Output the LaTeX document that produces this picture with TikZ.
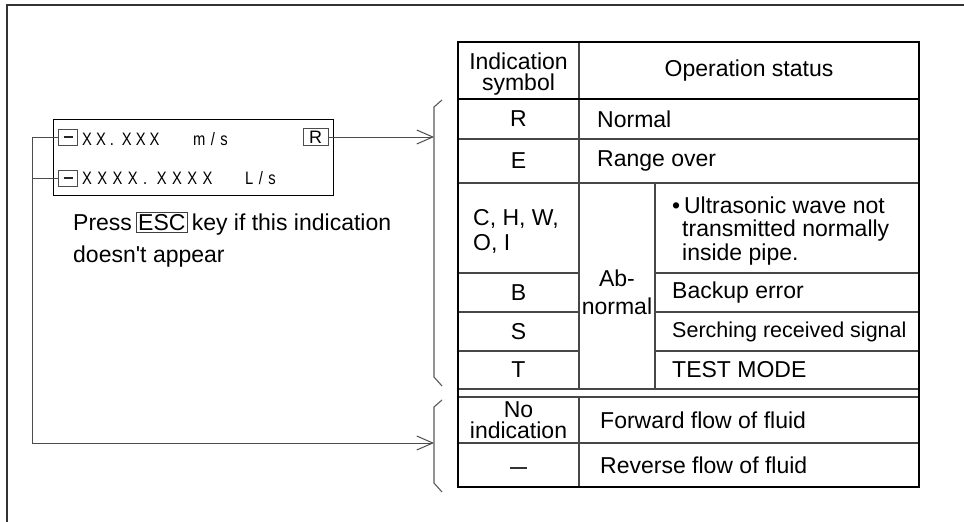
\documentclass[tikz,border=0pt]{standalone}
\usepackage{fontspec}
\setmainfont{Liberation Sans}
\newfontfamily\plainf{Liberation Sans}
\newfontfamily\dispA{Liberation Sans}[FakeStretch=0.82,LetterSpace=22]
\newfontfamily\dispB{Liberation Sans}[FakeStretch=0.82,LetterSpace=30]
\usetikzlibrary{arrows.meta}
\tikzset{
  tf/.style={font=\fontsize{23}{26}\selectfont, inner sep=0pt},
  dfa/.style={font=\dispA\fontsize{18}{20}\selectfont, inner sep=0pt},
  dfb/.style={font=\dispB\fontsize{18}{20}\selectfont, inner sep=0pt},
  inner/.style={draw=black!72, line width=1.1pt},
  outer/.style={draw=black, line width=1.6pt},
  conn/.style={draw=black!70, line width=1pt},
  tip/.style={-{Straight Barb[length=16pt,width=14pt,line width=1pt]}},
  brace/.style={draw=black!65, line width=1.1pt},
  smallbox/.style={draw=black!70, line width=0.9pt, inner sep=0pt, minimum width=19pt, minimum height=16pt},
}
\begin{document}
\begin{tikzpicture}[x=1pt,y=-1pt]
\useasboundingbox (0,0) rectangle (964,522);
% outer frame
\draw[draw=black!80, line width=1.8pt] (7,522) -- (7,5) -- (964,5);

% display box
\node[draw=black, line width=1.4pt, minimum width=280pt, minimum height=76pt, anchor=north west, inner sep=0pt] (disp) at (53,119) {};
\node[smallbox] (m1) at (68,137) {\color{black!85}\rule{9pt}{1.1pt}};
\node[smallbox] (m2) at (68,178) {\color{black!85}\rule{9pt}{1.1pt}};
\node[dfa, anchor=base west] (l1) at (82,145) {XX. XXX};
\node[dfb, anchor=base west] (u1) at (193,145) {m/s};
\node[dfb, anchor=base west] (l2) at (82,184) {XXXX. XXXX};
\node[dfb, anchor=base west] (u2) at (245,184) {L/s};
\node[draw=black!70, line width=0.9pt, inner sep=0pt, minimum width=25pt, minimum height=17pt, font=\fontsize{18}{20}\selectfont] (rbox) at (315.5,137) {R};

\node[tf, anchor=base west, align=left, font=\plainf\fontsize{23}{32}\selectfont] (press) at (73,262)
  {Press\,{\color{black!75}\setlength{\fboxsep}{1.5pt}\setlength{\fboxrule}{0.9pt}\fbox{\color{black}ESC}}\,key if this indication\\doesn't appear};

% braces
\draw[brace] (442,100) -- (434,107) -- (434,377) -- (442,386);
\draw[brace] (442,400) -- (434,407) -- (434,483) -- (442,492);
\coordinate (b1) at (434,137);
\coordinate (b2) at (434,443);
\coordinate (c1) at (32,443);

% connectors
\draw[conn, tip] (rbox.east) -- (b1);
\draw[conn] (m2.west) -- (m2.west -| c1);
\draw[conn, tip] (m1.west) -| (c1) -- (b2);

% table lines
\draw[inner] (579,42) -- (579,389);
\draw[inner] (579,397) -- (579,487);
\draw[inner] (655,183) -- (655,389);
\draw[inner] (458,139) -- (919,139);
\draw[inner] (458,183) -- (919,183);
\foreach \yy in {273,312,351} {
  \draw[inner] (458,\yy) -- (579,\yy);
  \draw[inner] (655,\yy) -- (919,\yy);
}
\draw[inner] (458,389) -- (919,389);
\draw[inner] (458,397) -- (919,397);
\draw[inner] (458,443) -- (919,443);
\draw[draw=black, line width=1.3pt] (458,99) -- (919,99);
\draw[outer] (458,42) rectangle (919,487);

% table text
\node[tf, anchor=base, align=center, font=\fontsize{23}{21}\selectfont] (h1) at (518.5,90) {Indication\\symbol};
\node[tf] (h2) at (749,71) {Operation status};
\node[tf] (sR) at (518.5,119) {R};
\node[tf, anchor=west] (tR) at (597,119) {Normal};
\node[tf] (sE) at (518.5,161) {E};
\node[tf, anchor=west] (tE) at (597,161) {Range over};
\node[tf, anchor=base west, align=left, font=\fontsize{23}{25}\selectfont] (sC) at (473,250) {C, H, W,\\O, I};
\node[tf, anchor=base, align=center, font=\fontsize{23}{28}\selectfont] (ab) at (617,314) {Ab-\\normal};
\node[tf, anchor=base west, align=left, font=\fontsize{23}{23.5}\selectfont] (tC) at (672,260)
  {•\,Ultrasonic wave not\\\hspace*{10pt}transmitted normally\\\hspace*{10pt}inside pipe.};
\node[tf] (sB) at (518.5,292.5) {B};
\node[tf, anchor=west] (tB) at (672,292.5) {Backup error};
\node[tf] (sS) at (518.5,331.5) {S};
\node[tf, anchor=west, font=\fontsize{21.5}{24}\selectfont] (tS) at (672,331.5) {Serching received signal};
\node[tf] (sT) at (518.5,370) {T};
\node[tf, anchor=west] (tT) at (672,370) {TEST MODE};
\node[tf, anchor=base, align=center, font=\fontsize{23}{21}\selectfont] (sN) at (518.5,438) {No\\indication};
\node[tf, anchor=west] (tN) at (600,420) {Forward flow of fluid};
\node[tf] (sM) at (518.5,468) {\color{black!80}\rule{17pt}{1.1pt}};
\node[tf, anchor=west] (tM) at (600,465) {Reverse flow of fluid};
\end{tikzpicture}
\end{document}
